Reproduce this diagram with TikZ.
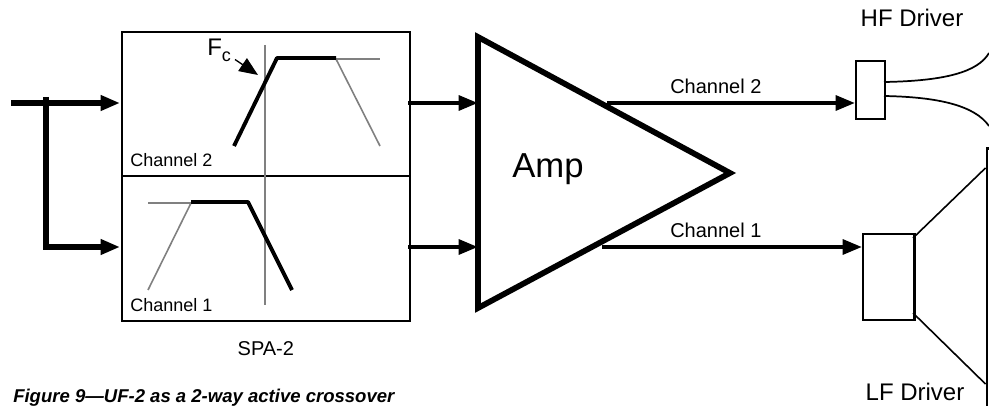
\documentclass[tikz,border=0pt]{standalone}
\usepackage{fontspec}
\setmainfont{Liberation Sans}
\usepackage{tikz}
\usetikzlibrary{arrows.meta,positioning}

\definecolor{curvegrey}{gray}{0.5}

\tikzset{
	block/.style={draw,line width=1.5pt,inner sep=0pt,fill=white},
	label/.style={inner sep=0pt,font=\fontsize{13.5pt}{13.5pt}\selectfont},
	outlabel/.style={inner sep=0pt,font=\fontsize{15pt}{15pt}\selectfont},
	bigline/.style={line width=4.3pt,line join=miter},
	midline/.style={line width=3pt},
	greyline/.style={curvegrey,line width=1.2pt},
	blackcurve/.style={line width=2.9pt,line join=round}
}

\begin{document}
\begin{tikzpicture}[x=0.75pt,y=-0.75pt,>={Triangle[length=14.5pt,width=11pt]}]
	\useasboundingbox (0,0) rectangle (989,406);
	\clip (0,0) rectangle (989,406);

	% processor box
	\node[block,minimum width=216.5pt,minimum height=108pt,anchor=north west] (ch2box) at (120.5,31.5) {};
	\node[block,minimum width=216.5pt,minimum height=108pt,anchor=north west] (ch1box) at (120.5,175.5) {};
	\coordinate (gridtop) at (265,45);
	\coordinate (gridbot) at (265,305);
	\draw[greyline] (gridtop) -- (gridbot);

	% pass bands
	\draw[greyline] (336,59) -- (380,59);
	\draw[greyline] (336,59) -- (380,146);
	\draw[blackcurve] (234,146) -- (277,58) -- (336,58);
	\draw[greyline] (148,203) -- (191,203) -- (148,290);
	\draw[blackcurve] (191,202) -- (248,202) -- (292,290);

	\node[anchor=base west,inner sep=0pt,font=\fontsize{18pt}{18pt}\selectfont] (fc) at (207,56) {F\raisebox{-0.22em}{\fontsize{13.5pt}{13.5pt}\selectfont c}};
	\coordinate (fctip) at (258,75);
	\draw[->,line width=1pt,>={Triangle[length=14pt,width=11.5pt]}] (235,59.5) -- (fctip);

	\node[label,anchor=base west] (ch2text) at (130,167) {Channel 2};
	\node[label,anchor=base west] (ch1text) at (130,311) {Channel 1};
	\node[outlabel,anchor=base] (spa) [below=15pt of ch1box.south] {SPA-2};

	% amplifier
	\coordinate (amptop) at (478,37);
	\coordinate (ampbot) at (478,308);
	\coordinate (amptip) at (730,173);
	\draw[line width=4.3pt,fill=white,miter limit=10] (amptop) -- (amptip) -- (ampbot) -- cycle;
	\node[inner sep=0pt,anchor=base west,font=\fontsize{26pt}{26pt}\selectfont] (amp) at (512,178) {Amp};

	% drivers
	\node[block,minimum width=21.7pt,minimum height=43.5pt,anchor=north west] (hf) at (855,60) {};
	\node[block,minimum width=38pt,minimum height=64.5pt,anchor=north west] (lf) at (862,233) {};
	\draw[line width=2.4pt] (lf.north east) -- (lf.south east);
	\node[draw,line width=2pt,fill=white,minimum width=30pt,minimum height=240pt,anchor=north west,inner sep=0pt] (cone) at (985.5,147) {};

	\coordinate (hfa) at (884,82);
	\coordinate (hfb) at (884,96);
	\coordinate (hfc) at (989,53);
	\coordinate (hfd) at (989,126);
	\draw[line width=1.3pt] (hfa) .. controls (945,81) and (978,72) .. (hfc);
	\draw[line width=1.3pt] (hfb) .. controls (940,97) and (975,106) .. (hfd);
	\coordinate (conea) at (913,238);
	\coordinate (coneb) at (913,313);
	\coordinate (conec) at (985.5,168);
	\coordinate (coned) at (985.5,384);
	\draw[line width=1.2pt] (conea) -- (conec);
	\draw[line width=1.2pt] (coneb) -- (coned);

	\node[outlabel,anchor=base,font=\fontsize{18pt}{18pt}\selectfont] (hftext) at (912,27) {HF Driver};
	\node[outlabel,anchor=base,font=\fontsize{18pt}{18pt}\selectfont] (lftext) at (915,400) {LF Driver};

	% signal path
	\coordinate (in) at (11,103);
	\coordinate (tee) at (46,97);
	\coordinate (ampin2) at (478,103);
	\coordinate (ampin1) at (478,247);
	\coordinate (out2) at (607,103);
	\coordinate (out1) at (602,247);
	\coordinate (box2in) at (120,103);
	\coordinate (box1in) at (120,247);
	\coordinate (box2out) at (408,103);
	\coordinate (box1out) at (408,247);
	\coordinate (hfin) at (855,103);
	\coordinate (lfin) at (862,247);

	\draw[bigline,->] (in) -- (box2in);
	\draw[bigline,->] (tee) |- (box1in);
	\draw[midline,->] (box2out) -- (ampin2);
	\draw[midline,->] (box1out) -- (ampin1);
	\draw[midline,->] (out2) -- (hfin);
	\draw[midline,->] (out1) -- (lfin);

	\node[outlabel,anchor=base west] (out2text) at (670,94) {Channel 2};
	\node[outlabel,anchor=base west] (out1text) at (670,238) {Channel 1};

	\node[anchor=base west,inner sep=0pt,font=\fontsize{13.9pt}{13.9pt}\selectfont\bfseries\itshape] (caption) at (13,402) {Figure 9---UF-2 as a 2-way active crossover};
\end{tikzpicture}
\end{document}
